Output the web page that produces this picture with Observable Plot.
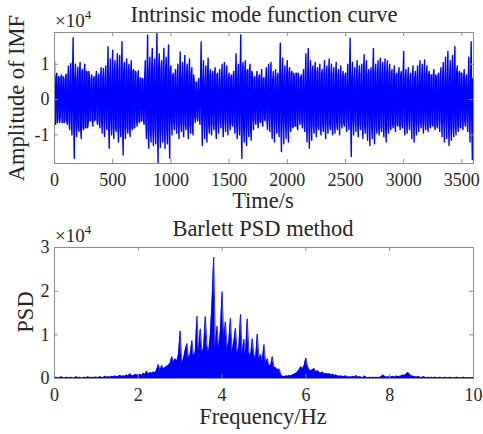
<!DOCTYPE html>
<html><head><meta charset="utf-8">
<script src="https://cdn.jsdelivr.net/npm/d3@7"></script>
<script src="https://cdn.jsdelivr.net/npm/@observablehq/plot@0.6"></script>
<style>
html,body{margin:0;padding:0;background:#fff;}
#wrap{position:relative;width:483px;height:434px;overflow:hidden;font-family:"Liberation Serif","Times New Roman",serif;}
#wrap svg{position:absolute;left:0;}
</style></head><body><div id="wrap"></div>
<script>
// ---------- IMF curve (top), amplitudes in units of 1e4 ----------
// upper and lower extremes per 20 s
const imfStep = 20;
const imfUpper = [
1.10,0.75,0.62,0.70,0.58,0.72,0.95,1.02,1.75,1.00,
0.92,1.05,0.85,1.00,0.78,0.62,0.70,0.65,0.80,0.72,
0.90,0.88,0.95,1.50,1.15,1.40,1.10,1.30,1.25,1.64,
1.05,1.15,1.00,1.10,0.85,0.78,0.82,0.62,0.58,1.10,
1.83,1.20,1.45,1.15,1.88,1.30,1.10,1.45,1.20,1.55,
0.95,0.75,0.85,1.00,1.35,1.05,1.25,1.00,1.15,0.90,
0.55,0.48,0.60,1.63,1.10,0.95,1.17,0.85,0.80,0.90,
0.75,0.85,1.00,1.05,0.95,0.75,0.70,0.80,1.30,1.00,
1.83,1.05,1.10,0.85,1.00,0.75,0.65,0.80,0.70,0.85,
0.62,0.90,1.00,1.05,0.80,0.85,0.75,1.60,1.17,0.95,
1.10,0.90,0.80,0.65,0.75,0.60,0.70,0.85,1.30,1.45,
1.10,0.95,1.05,0.90,1.00,0.85,1.10,0.95,1.15,1.00,
0.90,1.05,0.85,0.95,0.80,0.75,1.00,1.74,1.05,0.90,
1.10,0.95,1.00,1.27,1.10,0.85,0.90,1.45,1.00,1.10,
1.17,1.05,1.15,1.10,1.00,0.85,0.95,0.75,0.90,0.80,
1.36,0.85,0.90,0.75,0.95,0.80,0.95,1.10,1.00,1.12,
0.95,0.80,0.70,0.85,0.65,0.75,0.90,1.05,1.20,1.36,
1.10,1.25,1.50,0.95,0.80,0.75,0.85,0.70,1.20,1.64];
const imfLower = [
0.70,0.55,0.48,0.65,0.60,0.70,0.85,1.00,1.66,1.05,
0.90,1.10,0.85,0.80,0.65,0.60,0.75,0.55,0.70,0.80,
0.95,1.05,0.85,1.38,1.00,1.10,0.90,1.20,1.05,1.57,
1.10,0.95,1.05,0.85,0.80,0.75,0.65,0.60,0.70,1.10,
1.38,1.20,1.30,1.25,1.80,1.35,1.20,1.38,1.25,1.66,
1.00,0.85,0.95,1.10,0.90,1.05,0.85,1.10,0.95,1.00,
0.65,0.60,0.70,1.30,1.10,1.20,0.95,1.00,0.85,1.10,
0.95,0.80,1.05,0.90,1.00,0.85,0.75,0.95,1.10,1.00,
1.66,1.20,1.30,1.05,1.15,0.85,0.70,0.80,0.65,0.75,
0.60,0.85,0.90,1.10,1.20,0.95,1.05,1.47,1.25,1.10,
1.20,0.90,0.80,0.75,0.85,0.70,0.80,0.90,1.20,1.38,
1.15,0.95,1.05,0.85,1.00,0.90,1.10,0.95,0.85,1.00,
0.95,0.85,1.00,0.80,0.75,0.90,0.85,1.61,1.00,0.90,
1.05,0.85,1.10,0.95,1.15,1.30,1.10,1.25,0.95,1.00,
0.90,1.05,1.20,0.95,0.85,0.80,0.90,0.75,0.85,0.80,
1.00,0.95,0.85,1.10,1.20,1.00,0.90,0.80,0.95,0.85,
0.90,0.80,0.75,0.85,0.80,0.90,1.05,1.20,1.10,1.30,
1.15,1.05,1.00,0.90,0.80,0.85,0.75,0.90,1.20,1.70];
// half-height of the dense (solid) core of the signal, every 100 s
const imfCoreStep = 100;
const imfCore = [0.65,0.60,0.80,0.60,0.60,0.80,0.80,0.60,0.85,0.85,
0.65,0.70,0.50,0.70,0.60,0.65,0.80,0.60,0.55,0.65,
0.75,0.60,0.75,0.70,0.65,0.60,0.70,0.75,0.75,0.70,
0.60,0.65,0.70,0.60,0.75,0.60,0.80];
const imfTicksX = [0,500,1000,1500,2000,2500,3000,3500];
const imfTicksY = [-1,0,1];

// ---------- Barlett PSD (bottom), units of 1e4, every 0.04 Hz from 0 to 10 Hz ----------
const psdStep = 0.04;
const psdValues = [
0.02,0.03,0.01,0.02,0.04,0.02,0.01,0.03,0.02,0.02,0.03,0.01,0.02,0.04,0.02,0.03,0.01,0.02,0.03,0.02,0.04,0.02,0.03,0.02,0.03,
0.03,0.02,0.04,0.03,0.02,0.05,0.03,0.04,0.03,0.05,0.04,0.06,0.04,0.05,0.07,0.05,0.06,0.05,0.08,0.06,0.11,0.07,0.06,0.09,0.08,
0.08,0.10,0.07,0.12,0.09,0.17,0.10,0.14,0.12,0.15,0.13,0.20,0.32,0.18,0.30,0.22,0.25,0.28,0.30,0.35,0.50,0.38,0.45,0.40,0.55,
1.09,0.35,0.45,0.65,0.80,0.45,0.55,0.87,0.50,0.60,1.43,0.55,1.14,0.60,0.70,1.42,0.75,0.60,1.00,1.75,2.78,0.70,1.20,0.65,1.10,
1.99,0.90,1.30,0.70,0.85,1.38,0.60,0.85,1.15,0.60,0.70,1.47,0.55,0.90,0.55,1.37,0.60,0.50,0.91,0.55,0.45,1.02,0.45,0.55,0.40,
0.78,0.35,0.45,0.30,0.30,0.50,0.25,0.25,0.20,0.22,0.10,0.05,0.04,0.06,0.05,0.07,0.06,0.08,0.10,0.12,0.15,0.20,0.27,0.22,0.30,
0.47,0.28,0.20,0.18,0.20,0.23,0.15,0.18,0.14,0.12,0.15,0.10,0.12,0.10,0.11,0.08,0.10,0.07,0.08,0.06,0.05,0.06,0.04,0.05,0.06,
0.03,0.04,0.03,0.05,0.03,0.07,0.03,0.04,0.03,0.02,0.06,0.03,0.02,0.03,0.02,0.03,0.02,0.03,0.02,0.03,0.04,0.08,0.05,0.03,0.04,
0.03,0.04,0.05,0.03,0.06,0.04,0.05,0.06,0.08,0.07,0.11,0.14,0.09,0.06,0.05,0.04,0.03,0.05,0.03,0.02,0.04,0.03,0.02,0.03,0.02,
0.03,0.02,0.03,0.02,0.02,0.03,0.02,0.02,0.03,0.02,0.02,0.03,0.02,0.02,0.02,0.03,0.02,0.02,0.02,0.03,0.02,0.02,0.02,0.02,0.02,
0.02];
const psdTicksX = [0,2,4,6,8,10];
const psdTicksY = [0,1,2,3];

const SCALE = 1e4;
const BLUE = "#0000ff";
const AXIS = "#8c8c8c";
const INK = "#262626";
const FONT = '"Liberation Serif","Times New Roman",serif';

// each 20 s bin: upper extreme, dip to core, lower extreme, back to core
const imfData = [];
imfUpper.forEach((u, i) => {
  const t0 = i * imfStep;
  const c = imfCore[Math.floor(t0 / imfCoreStep)];
  const q = imfStep / 4;
  imfData.push({t: t0, v: u * SCALE});
  imfData.push({t: t0 + q, v: -c * SCALE});
  imfData.push({t: t0 + 2 * q, v: -imfLower[i] * SCALE});
  imfData.push({t: t0 + 3 * q, v: c * SCALE});
});
const psdData = psdValues.map((v, i) => ({f: +(i * psdStep).toFixed(2), v: v * SCALE}));

function inwardTicks(xt, yt, fh, fw) {
  return [
    Plot.tickX(xt, {x: d => d, insetTop: fh - 4, stroke: AXIS}),
    Plot.tickX(xt, {x: d => d, insetBottom: fh - 4, stroke: AXIS}),
    Plot.tickY(yt, {y: d => d, insetRight: fw - 4, stroke: AXIS}),
    Plot.tickY(yt, {y: d => d, insetLeft: fw - 4, stroke: AXIS})
  ];
}

function addText(svg, x, y, str, opts = {}) {
  const t = d3.select(svg).append("text")
    .attr("x", x).attr("y", y)
    .attr("text-anchor", opts.anchor || "middle")
    .attr("font-size", opts.size || 22.5)
    .attr("fill", INK)
    .attr("font-family", FONT)
    .text(str);
  if (opts.rotate) t.attr("transform", `rotate(-90 ${x} ${y})`);
  return t;
}
function addExp(svg, x, y) {
  const t = d3.select(svg).append("text")
    .attr("x", x).attr("y", y)
    .attr("text-anchor", "start")
    .attr("font-size", 19).attr("fill", INK).attr("font-family", FONT)
    .text("\u00d710");
  t.append("tspan").attr("dy", -8).attr("font-size", 13).text("4");
}

const wrap = document.getElementById("wrap");

// ---- top plot ----
const W = 483;
const topH = 215, topM = {t: 32, b: 52, l: 54, r: 10};
const topFH = topH - topM.t - topM.b, topFW = W - topM.l - topM.r;
const imfPlot = Plot.plot({
  width: W, height: topH,
  marginTop: topM.t, marginBottom: topM.b, marginLeft: topM.l, marginRight: topM.r,
  style: {fontFamily: FONT, fontSize: "18px", color: INK, background: "transparent"},
  x: {domain: [0, 3600], ticks: imfTicksX, tickSize: 0, tickPadding: 10, label: null, tickFormat: d => String(d)},
  y: {domain: [-1.81e4, 1.9e4], ticks: imfTicksY.map(d => d * SCALE), tickSize: 0, tickPadding: 5, label: null, tickFormat: d => String(d / SCALE)},
  marks: [
    Plot.line(imfData, {x: "t", y: "v", stroke: BLUE, strokeWidth: 1.4, clip: true}),
    Plot.frame({stroke: AXIS}),
    ...inwardTicks(imfTicksX, imfTicksY.map(d => d * SCALE), topFH, topFW)
  ]
});
imfPlot.style.top = "0px";
wrap.appendChild(imfPlot);
addText(imfPlot, 264, 22, "Intrinsic mode function curve");
addExp(imfPlot, 55, 27);
addText(imfPlot, 24, 98, "Amplitude of IMF", {rotate: true});
addText(imfPlot, 263, 208, "Time/s");

// ---- bottom plot ----
const botH = 219, botTop = 215, botM = {t: 32, b: 56, l: 54, r: 10};
const botFH = botH - botM.t - botM.b, botFW = W - botM.l - botM.r;
const psdPlot = Plot.plot({
  width: W, height: botH,
  marginTop: botM.t, marginBottom: botM.b, marginLeft: botM.l, marginRight: botM.r,
  style: {fontFamily: FONT, fontSize: "18px", color: INK, background: "transparent"},
  x: {domain: [0, 10], ticks: psdTicksX, tickSize: 0, tickPadding: 10, label: null, tickFormat: d => String(d)},
  y: {domain: [0, 3e4], ticks: psdTicksY.map(d => d * SCALE), tickSize: 0, tickPadding: 5, label: null, tickFormat: d => String(d / SCALE)},
  marks: [
    Plot.areaY(psdData, {x: "f", y: "v", fill: BLUE, clip: true}),
    Plot.lineY(psdData, {x: "f", y: "v", stroke: BLUE, strokeWidth: 0.8, clip: true}),
    Plot.frame({stroke: AXIS}),
    ...inwardTicks(psdTicksX, psdTicksY.map(d => d * SCALE), botFH, botFW)
  ]
});
psdPlot.style.top = botTop + "px";
wrap.appendChild(psdPlot);
addText(psdPlot, 263, 236 - botTop, "Barlett PSD method");
addExp(psdPlot, 55, 242 - botTop);
addText(psdPlot, 33, 312 - botTop, "PSD", {rotate: true});
addText(psdPlot, 263, 424 - botTop, "Frequency/Hz");
</script></body></html>
